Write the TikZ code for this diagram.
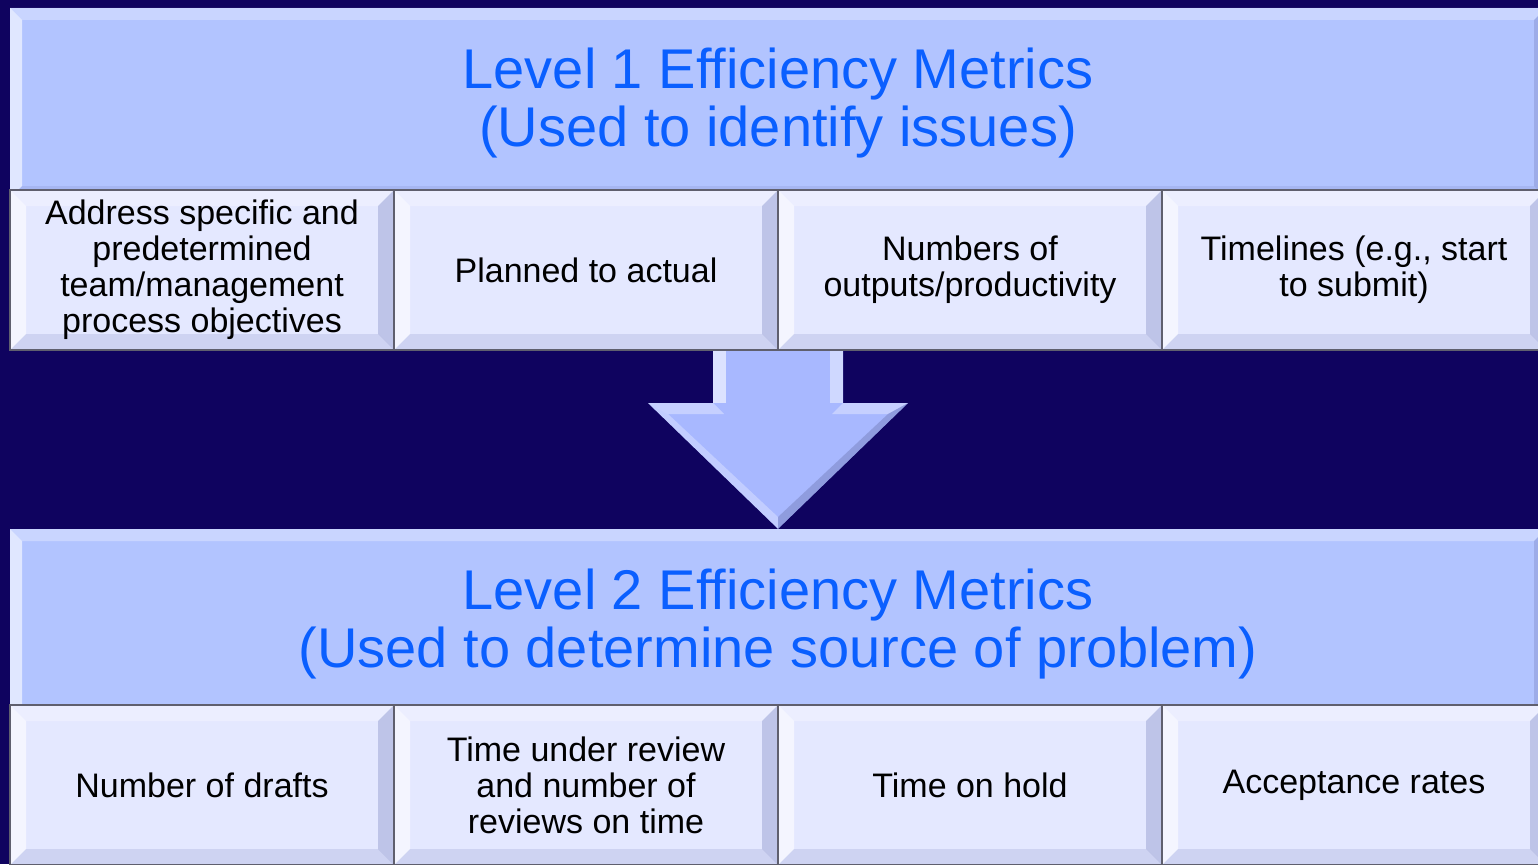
\documentclass[tikz,border=0pt]{standalone}
\usepackage{fontspec}
\setmainfont{Liberation Sans}
\usetikzlibrary{positioning}

\definecolor{navyBg}{RGB}{15,3,95}
\definecolor{bannerBlue}{RGB}{178,196,255}
\definecolor{cellBlue}{RGB}{228,232,255}
\definecolor{titleBlue}{RGB}{10,95,255}
\definecolor{edgeGray}{RGB}{95,95,110}
\definecolor{arrowBlue}{RGB}{168,184,255}
\definecolor{shadeBlue}{RGB}{120,130,190}

\begin{document}
\begin{tikzpicture}[x=1pt, y=-1pt,
  bevel/.style={path picture={
    \fill[white, opacity=.6] (path picture bounding box.south west) -- (path picture bounding box.north west) -- ([shift={(#1,-#1)}]path picture bounding box.north west) -- ([shift={(#1,#1)}]path picture bounding box.south west) -- cycle;
    \fill[white, opacity=.3] (path picture bounding box.north west) -- (path picture bounding box.north east) -- ([shift={(-#1,-#1)}]path picture bounding box.north east) -- ([shift={(#1,-#1)}]path picture bounding box.north west) -- cycle;
    \fill[shadeBlue, opacity=.35] (path picture bounding box.north east) -- (path picture bounding box.south east) -- ([shift={(-#1,#1)}]path picture bounding box.south east) -- ([shift={(-#1,-#1)}]path picture bounding box.north east) -- cycle;
    \fill[shadeBlue, opacity=.2] (path picture bounding box.south west) -- (path picture bounding box.south east) -- ([shift={(-#1,#1)}]path picture bounding box.south east) -- ([shift={(#1,#1)}]path picture bounding box.south west) -- cycle;
  }},
  banner/.style={shape=rectangle, fill=bannerBlue, inner sep=0pt, align=center, minimum width=1536pt, minimum height=190pt, text=titleBlue, font=\fontsize{56}{58}\selectfont, bevel=12pt},
  cell/.style={shape=rectangle, draw=edgeGray, line width=1.2pt, fill=cellBlue, inner sep=0pt, align=center, minimum width=384pt, minimum height=160pt, font=\fontsize{34}{36}\selectfont, bevel=16pt},]

\useasboundingbox (0,0) rectangle (1538,864);
\fill[navyBg] (0,0) rectangle (1538,864);
\clip (0,0) rectangle (1538,864);

\node[banner] (levelOne) at (778,103) {Level 1 Efficiency Metrics\\(Used to identify issues)};
\node[cell] (objectives) at (202,270) {Address specific and\\predetermined\\team/management\\process objectives};
\node[cell] (plannedActual) at (586,270) {Planned to actual};
\node[cell] (outputs) at (970,270) {Numbers of\\outputs/productivity};
\node[cell] (timelines) at (1354,270) {Timelines (e.g., start\\to submit)};

\node[banner] (levelTwo) at (778,624) {Level 2 Efficiency Metrics\\(Used to determine source of problem)};
\node[cell] (drafts) at (202,785) {Number of drafts};
\node[cell] (reviewTime) at (586,785) {Time under review\\and number of\\reviews on time};
\node[cell] (onHold) at (970,785) {Time on hold};
\node[cell] (acceptance) at (1354,785) {Acceptance rates};

% big arrow from level 1 down to level 2
\coordinate (arrowTip) at (levelTwo.north);
\fill[arrowBlue] (713,351) -- (843,351) -- (843,403) -- (908,403) -- (arrowTip) -- (648,403) -- (713,403) -- cycle;
\fill[white, opacity=.6] (713,351) rectangle (726,403);
\fill[white, opacity=.45] (830,351) rectangle (843,403);
\fill[white, opacity=.35] (648,403) -- (713,403) -- (724,414) -- (668,414) -- cycle;
\fill[white, opacity=.35] (843,403) -- (908,403) -- (888,414) -- (832,414) -- cycle;
\fill[white, opacity=.3] (648,403) -- (668,414) -- (778,517) -- (arrowTip) -- cycle;
\fill[shadeBlue, opacity=.5] (908,403) -- (888,414) -- (778,517) -- (arrowTip) -- cycle;
\end{tikzpicture}
\end{document}
